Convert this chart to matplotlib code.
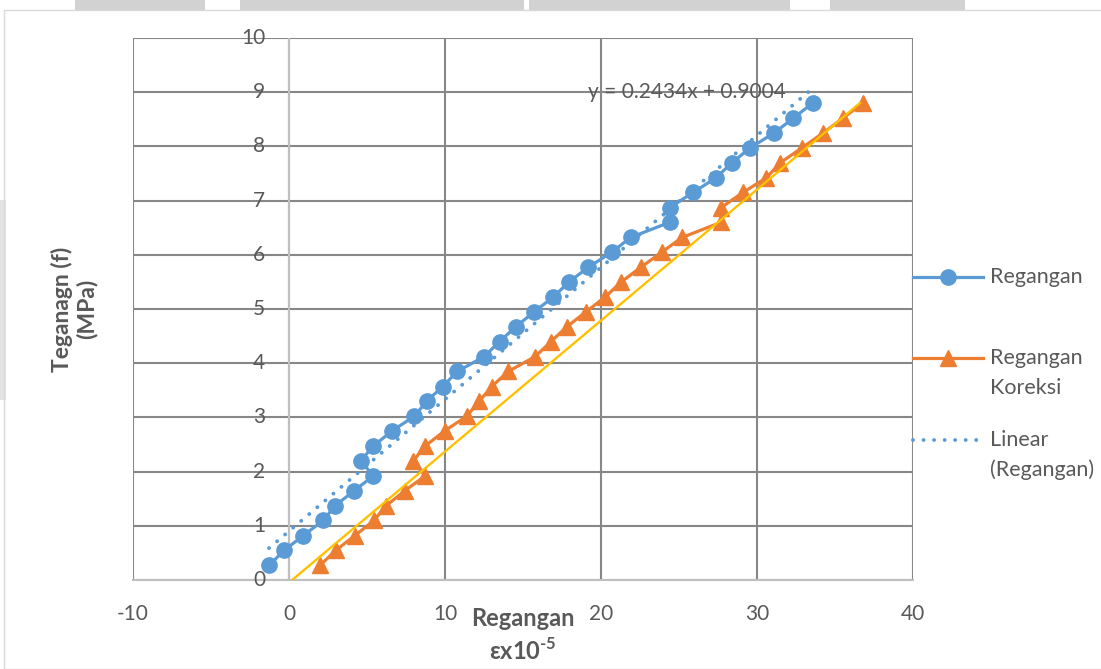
import matplotlib.pyplot as plt
from matplotlib.lines import Line2D
from matplotlib.patches import Rectangle

plt.rcParams['font.family'] = ['Lato', 'DejaVu Sans']
plt.rcParams['mathtext.fontset'] = 'custom'
plt.rcParams['mathtext.rm'] = 'Lato'
plt.rcParams['mathtext.bf'] = 'Lato:bold'
plt.rcParams['axes.unicode_minus'] = False

# tegangan (MPa) for every load step
tegangan = [0.27, 0.55, 0.82, 1.10, 1.37, 1.65, 1.92, 2.20, 2.47, 2.75, 3.02,
            3.30, 3.57, 3.85, 4.12, 4.40, 4.67, 4.95, 5.22, 5.50, 5.77, 6.05,
            6.32, 6.60, 6.87, 7.15, 7.42, 7.70, 7.97, 8.25, 8.52, 8.80]
# regangan (x10^-5)
regangan = [-1.28, -0.30, 0.92, 2.20, 2.95, 4.19, 5.40, 4.60, 5.40, 6.60, 8.03,
            8.83, 9.85, 10.80, 12.50, 13.50, 14.53, 15.72, 16.94, 17.95, 19.19, 20.70,
            21.90, 24.40, 24.40, 25.90, 27.37, 28.40, 29.55, 31.10, 32.33, 33.57]
# regangan koreksi (x10^-5)
regangan_kor = [1.99, 3.01, 4.23, 5.45, 6.22, 7.44, 8.72, 7.97, 8.72, 9.97, 11.39,
                12.20, 13.00, 14.06, 15.77, 16.80, 17.80, 19.05, 20.26, 21.30, 22.56, 23.90,
                25.20, 27.70, 27.70, 29.10, 30.60, 31.50, 32.87, 34.25, 35.50, 36.80]
# garis acuan
acuan_x = [0.2, 36.6]
acuan_y = [0.0, 8.8]
# trendline linear dari Excel
slope, intercept = 0.2434, 0.9004

xticks = [-10, 0, 10, 20, 30, 40]
yticks = [0, 1, 2, 3, 4, 5, 6, 7, 8, 9, 10]

BLUE = '#5B9BD5'
ORANGE = '#ED7D31'
YELLOW = '#FFC000'
GRID = '#878787'
TXT = '#595959'

W, H = 1101, 669
fig = plt.figure(figsize=(W / 100, H / 100), dpi=100)

def fx(px):
    return px / W

def fy(py):
    return 1 - py / H

# faint watermark bits + chart border
for xs in [(75, 205), (240, 524), (529, 790), (830, 965)]:
    fig.patches.append(Rectangle((fx(xs[0]), fy(10)), fx(xs[1] - xs[0]), 10 / H,
                                 transform=fig.transFigure, color='#D2D2D2', lw=0, zorder=0))
fig.patches.append(Rectangle((0, fy(400)), fx(6), 200 / H, transform=fig.transFigure,
                             color='#E3E3E3', lw=0, zorder=0))
fig.patches.append(Rectangle((fx(4), 0), 1, fy(10), transform=fig.transFigure,
                             fill=False, ec='#D9D9D9', lw=1, zorder=1))

ax = fig.add_axes([fx(133), fy(580), fx(780), 542 / H])
ax.set_xlim(-10, 40)
ax.set_ylim(0, 10)
ax.set_xticks(xticks)
ax.set_yticks(yticks)
ax.set_yticklabels([])
ax.tick_params(length=0, pad=17, labelsize=15, labelcolor=TXT)
ax.grid(True, color=GRID, lw=1.5)
ax.set_axisbelow(True)
for s in ax.spines.values():
    s.set_visible(False)
ax.axvline(0, color='#BFBFBF', lw=1.5, zorder=1)
ax.axhline(0, color='#BFBFBF', lw=1.5, zorder=1, clip_on=False)

# y labels sit beside the vertical axis at x = 0
for v in yticks:
    ax.annotate(str(v), xy=(0, v), xytext=(-17, 0), textcoords='offset points',
                ha='right', va='center', fontsize=15, color=TXT, annotation_clip=False)

ax.plot(regangan, tegangan, color=BLUE, lw=2.3, marker='o', ms=11, zorder=3)
ax.plot(regangan_kor, tegangan, color=ORANGE, lw=2.3, marker='^', ms=11, zorder=4)
ax.plot(acuan_x, acuan_y, color=YELLOW, lw=1.7, zorder=5)

tx = [min(regangan), max(regangan)]
ty = [slope * v + intercept for v in tx]
ax.plot(tx, ty, color=BLUE, lw=2.8, dashes=(0.01, 2.7), dash_capstyle='round', zorder=6)
ax.text(19.17, 9.0, f'y = {slope:.4f}x + {intercept:.4f}', fontsize=15, color=TXT,
        ha='left', va='center', zorder=7)

# hyphen (U+2010) keeps the exponent sign short like a plain dash
ax.set_xlabel('Regangan\nεx10$^{\\mathbf{\u20105}}$', fontsize=17,
              fontweight='bold', color=TXT, linespacing=1.35)
ax.xaxis.set_label_coords(0.5, -0.05)
ax.xaxis.label.set_va('top')
ax.set_ylabel('Teganagn (f)\n(MPa)', fontsize=16.5, fontweight='bold', color=TXT,
              linespacing=1.15)
ax.yaxis.set_label_coords(-0.046, 0.5)

# legend drawn to the right of the plot area
entries = [
    (277, dict(color=BLUE, lw=2.3, marker='o', ms=11), ['Regangan']),
    (358, dict(color=ORANGE, lw=2.3, marker='^', ms=11), ['Regangan', 'Koreksi']),
    (440, dict(color=BLUE, lw=2.8, dashes=(0.01, 2.7), dash_capstyle='round'),
     ['Linear', '(Regangan)']),
]
for py, style, lines in entries:
    if 'marker' in style:
        xs = [fx(913), fx(948), fx(983)]
        ln = Line2D(xs, [fy(py)] * 3, transform=fig.transFigure, markevery=[1], **style)
    else:
        ln = Line2D([fx(913), fx(983)], [fy(py)] * 2, transform=fig.transFigure, **style)
    fig.add_artist(ln)
    for i, t in enumerate(lines):
        fig.text(fx(990), fy(py + 30 * i), t, fontsize=15.5, color=TXT, ha='left', va='center')

fig.savefig('out.png', dpi=100)
